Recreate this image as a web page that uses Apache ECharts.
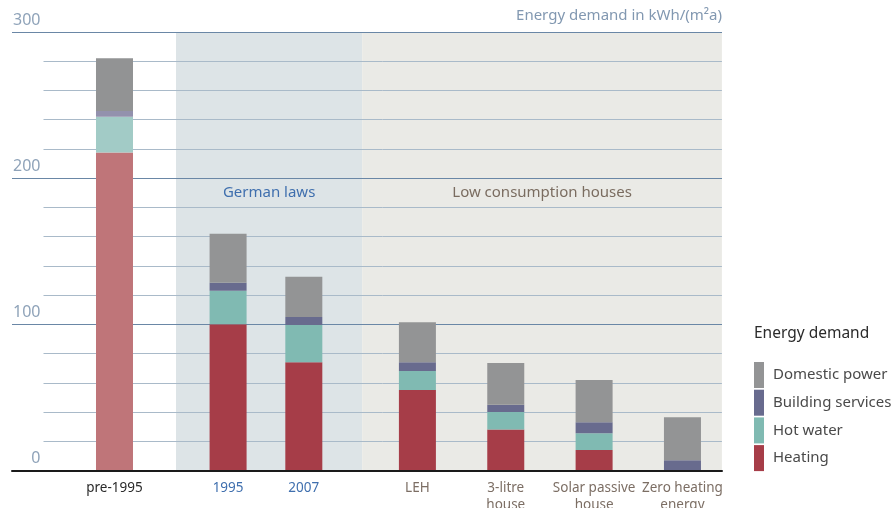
<!DOCTYPE html>
<html>
<head>
<meta charset="utf-8">
<script src="https://cdn.jsdelivr.net/npm/echarts@6/dist/echarts.min.js"></script>
<style>
  html, body { margin: 0; background: #fff; }
  #chart { width: 891px; height: 508px; }
</style>
</head>
<body>
<div id="chart"></div>
<script>
// values, kWh/(m²a)
const categories = ['pre-1995', '1995', '2007', 'LEH', '3-litre\nhouse', 'Solar passive\nhouse', 'Zero heating\nenergy'];
const heating = [217.5, 100, 74, 55, 28, 14, 0];
const hotWater = [24.5, 23, 25.5, 13, 12, 11.5, 0];
const buildingServices = [4, 5.5, 5.5, 6, 5, 7.5, 7];
const domesticPower = [36, 33.5, 27.5, 27.5, 28.5, 29, 29.5];
const legendOrder = ['Domestic power', 'Building services', 'Hot water', 'Heating'];
const regionLabels = ['German laws', 'Low consumption houses'];

// layout: the x axis is cut into narrow slots so the bars can sit unevenly like the original
const slotCount = 215;
const firstSlot = 22;
const barSlots = [0, 36, 60, 96, 124, 152, 180];
const regionSlots = [[42, 100], [101, 214]];

const font = '"Noto Sans", sans-serif';

const slotCategories = new Array(slotCount).fill('').map((_, i) => {
  const k = barSlots.indexOf(i - firstSlot);
  return k >= 0 ? categories[k] : '';
});

const labelColor = (v) => {
  if (v === 'pre-1995') return '#2a2a2a';
  if (v === '1995' || v === '2007') return '#3f6fae';
  return '#7c6e64';
};

function toSlots(values, faded) {
  const arr = new Array(slotCount).fill('-');
  values.forEach((v, i) => {
    arr[firstSlot + barSlots[i]] = i === 0 ? { value: v, itemStyle: { color: faded } } : v;
  });
  return arr;
}

const seriesDefs = [
  { name: 'Heating', values: heating, color: '#a63d48', faded: '#bf7579' },
  { name: 'Hot water', values: hotWater, color: '#80bab2', faded: '#a2cbc6' },
  { name: 'Building services', values: buildingServices, color: '#686b8e', faded: '#9391ad' },
  { name: 'Domestic power', values: domesticPower, color: '#939495', faded: '#929394' },
];

const series = seriesDefs.map((s) => ({
  name: s.name,
  type: 'bar',
  stack: 'total',
  xAxisIndex: 0,
  yAxisIndex: 0,
  barWidth: 37,
  itemStyle: { color: s.color },
  z: 2,
  data: toSlots(s.values, s.faded),
}));

series[0].markArea = {
  silent: true,
  z: -1,
  data: [
    [
      {
        xAxis: regionSlots[0][0],
        itemStyle: { color: '#dde4e7' },
        label: {
          show: true, formatter: regionLabels[0], position: ['50%', 161],
          align: 'center', verticalAlign: 'middle',
          color: '#3f6fae', fontSize: 15, fontFamily: font,
        },
      },
      { xAxis: regionSlots[0][1] },
    ],
    [
      {
        xAxis: regionSlots[1][0],
        itemStyle: { color: '#eaeae6' },
        label: {
          show: true, formatter: regionLabels[1], position: ['50%', 161],
          align: 'center', verticalAlign: 'middle',
          color: '#7a6c60', fontSize: 15, fontFamily: font,
        },
      },
      { xAxis: regionSlots[1][1] },
    ],
  ],
};

const chart = echarts.init(document.getElementById('chart'));
chart.setOption({
  animation: false,
  textStyle: { fontFamily: font },
  title: [
    {
      text: 'Energy demand in kWh/(m²a)', right: 169, top: 8, padding: 0,
      textStyle: { color: '#8298b1', fontSize: 15, fontWeight: 'normal', fontFamily: font },
    },
    {
      text: 'Energy demand', left: 754, top: 326, padding: 0,
      textStyle: { color: '#2b2b2b', fontSize: 15.5, fontWeight: 'normal', fontFamily: font },
    },
  ],
  legend: {
    data: legendOrder,
    orient: 'vertical',
    left: 754,
    top: 362,
    padding: 0,
    icon: 'rect',
    itemWidth: 10,
    itemHeight: 26,
    itemGap: 1.7,
    selectedMode: false,
    textStyle: { color: '#4a4a4a', fontSize: 15, fontFamily: font, padding: [0, 0, 0, 4] },
  },
  grid: [
    { left: 43.5, right: 169.1, top: 32, bottom: 37.5, outerBoundsMode: 'none', containLabel: false },
    { left: 12, right: 169, top: 32, bottom: 37.5, outerBoundsMode: 'none', containLabel: false },
  ],
  xAxis: [
    {
      type: 'category',
      gridIndex: 0,
      data: slotCategories,
      axisLine: { show: false },
      axisTick: { show: false },
      axisLabel: {
        interval: 0, margin: 9, fontSize: 13.5, lineHeight: 17,
        fontFamily: font, color: labelColor,
      },
    },
    {
      type: 'value',
      gridIndex: 1,
      min: 0, max: 1,
      z: 3,
      axisLine: { show: true, lineStyle: { color: '#1a1a1a', width: 2 } },
      axisTick: { show: false },
      axisLabel: { show: false },
      splitLine: { show: false },
    },
  ],
  yAxis: [
    {
      type: 'value',
      gridIndex: 0,
      min: 0, max: 300, interval: 20,
      axisLine: { show: false },
      axisTick: { show: false },
      axisLabel: {
        margin: 3, fontSize: 16, color: '#8fa3b9', verticalAlign: 'bottom',
        padding: [0, 0, 4, 0], fontFamily: font,
        formatter: (v) => (v % 100 === 0 ? String(v) : ''),
      },
      splitLine: { lineStyle: { color: '#a9bac9', width: 1 } },
    },
    {
      type: 'value',
      gridIndex: 1,
      min: 0, max: 300, interval: 100,
      z: 1,
      axisLine: { show: false },
      axisTick: { show: false },
      axisLabel: { show: false },
      splitLine: { lineStyle: { color: '#6a87a6', width: 1 } },
    },
  ],
  series: series,
});
</script>
</body>
</html>
